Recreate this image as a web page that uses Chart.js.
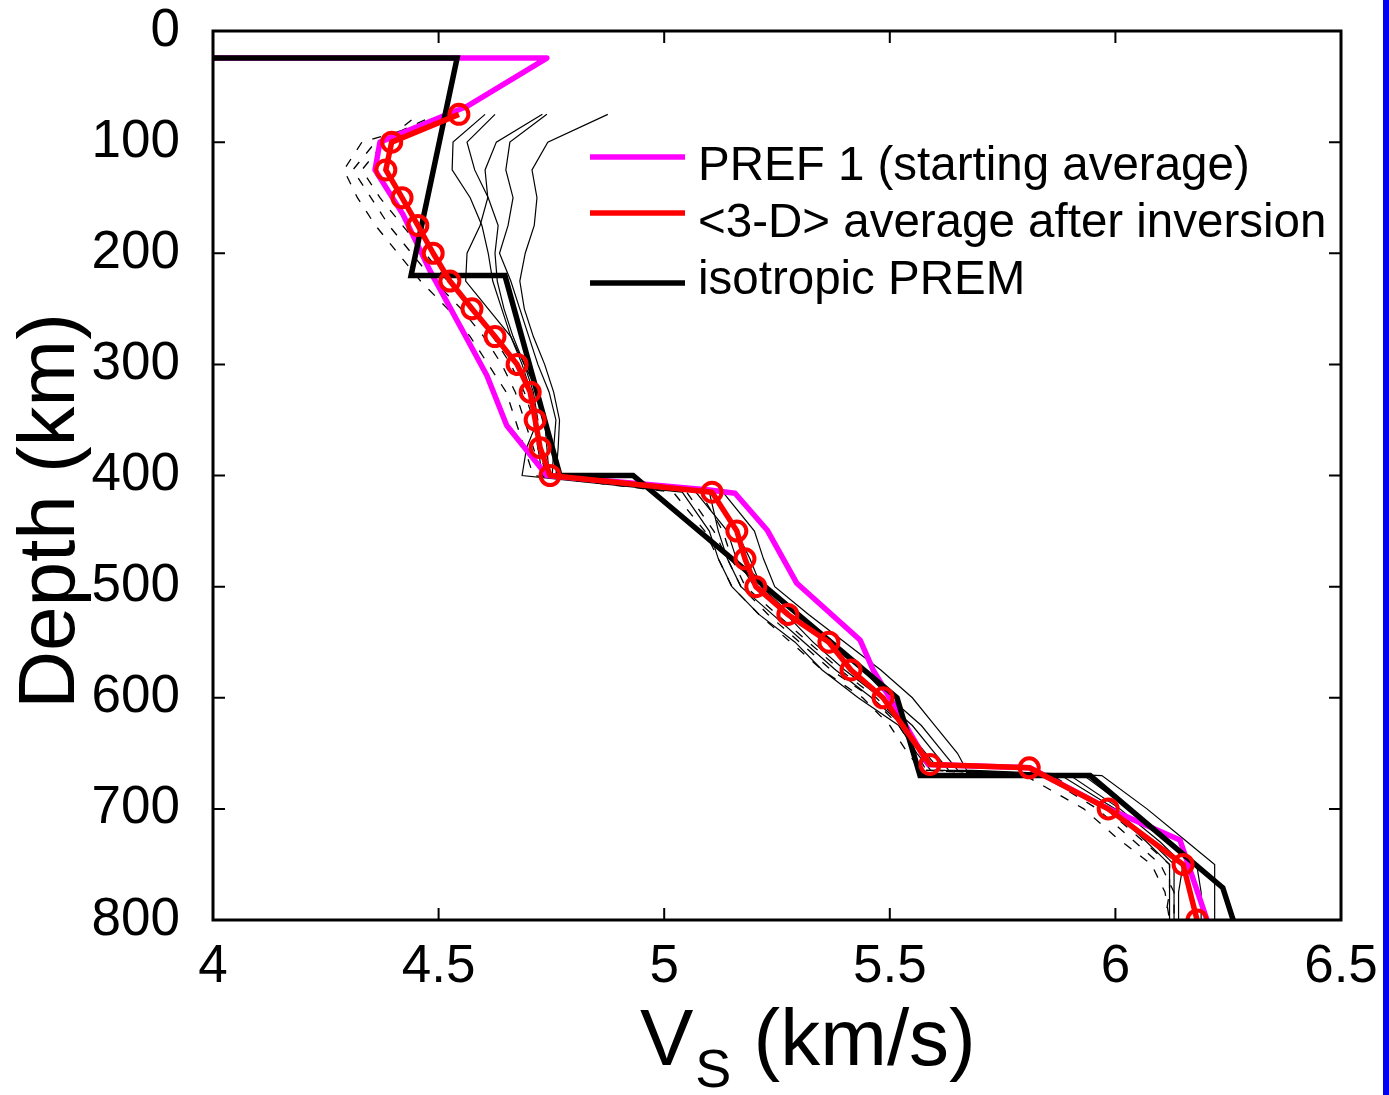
<!DOCTYPE html>
<html>
<head>
<meta charset="utf-8">
<script src="https://cdn.jsdelivr.net/npm/chart.js@4.4.0/dist/chart.umd.min.js"></script>
<style>
  body { margin: 0; background: #fff; }
  #wrap { position: relative; width: 1389px; height: 1095px; }
  #blue-bar { position: absolute; left: 1383px; top: 0; width: 6px; height: 1095px; background: #0000f4; }
</style>
</head>
<body>
<div id="wrap">
  <canvas id="vsChart" width="1389" height="1095"></canvas>
  <div id="blue-bar"></div>
</div>
<script>
const FONT = '"Liberation Sans", Arial, Helvetica, sans-serif';

const xTicks = [4, 4.5, 5, 5.5, 6, 6.5];
const yTicks = [0, 100, 200, 300, 400, 500, 600, 700, 800];

// <3-D> average after inversion
const depthAvg = [75,100,125,150,175,200,225,250,275,300,325,350,375,400,415,450,475,500,525,550,575,600,660,663,700,750,800];
const vsAvg = [4.545,4.396,4.383,4.419,4.454,4.488,4.525,4.574,4.625,4.674,4.703,4.714,4.725,4.747,5.106,5.161,5.179,5.203,5.274,5.365,5.414,5.485,5.589,5.809,5.984,6.150,6.181];

// isotropic PREM
const depthPrem = [24.4,24.4,220,220,400,400,600,670,670,771,800];
const vsPrem = [4.0,4.541,4.439,4.647,4.769,4.931,5.516,5.567,5.944,6.238,6.261];

// PREF 1 (starting average)
const depthPref = [24.4,24.4,68,100,125,165,215,310,355,400,413,416,449,497,548,575,600,660,663,700,728,800];
const vsPref = [4.0,4.74,4.562,4.37,4.359,4.421,4.48,4.607,4.651,4.74,5.10,5.157,5.228,5.294,5.434,5.463,5.50,5.585,5.81,5.985,6.143,6.203];

// individual regional profiles
const depthThin = [75,100,125,150,175,200,225,250,275,300,325,350,375,400,415,450,475,500,525,550,575,600,625,650,665,670,700,730,750,775,800];
const vsThin1 = [4.875,4.742,4.707,4.718,4.712,4.692,4.68,4.69,4.71,4.735,4.755,4.768,4.765,4.76,5.13,5.20,5.22,5.245,5.32,5.40,5.48,5.55,5.60,5.65,5.67,5.97,6.07,6.16,6.22,6.22,6.22];
const vsThin2 = [4.74,4.658,4.649,4.665,4.654,4.635,4.66,4.68,4.70,4.72,4.745,4.76,4.755,4.752,5.11,5.16,5.19,5.215,5.28,5.36,5.44,5.50,5.57,5.62,5.65,5.93,6.03,6.12,6.18,6.19,6.19];
const vsThin3 = [4.73,4.628,4.603,4.609,4.592,4.563,4.56,4.61,4.66,4.69,4.72,4.735,4.74,4.745,5.07,5.14,5.16,5.20,5.27,5.33,5.40,5.48,5.55,5.60,5.63,5.90,6.01,6.10,6.15,6.14,6.14];
const vsThin4 = [4.625,4.563,4.58,4.61,4.632,4.625,4.63,4.645,4.665,4.69,4.71,4.72,4.695,4.685,5.04,5.10,5.12,5.15,5.21,5.29,5.35,5.43,5.52,5.56,5.59,5.88,6.00,6.08,6.13,6.13,6.13];
const vsThin5 = [4.603,4.532,4.53,4.57,4.596,4.61,4.62,4.64,4.66,4.685,4.705,4.715,4.72,4.73,5.10,5.12,5.14,5.17,5.24,5.31,5.38,5.46,5.53,5.58,5.61,5.85,5.99,6.07,6.12,6.12,6.12];

const depthDash = [80,100,125,150,175,200,225,250,275,300,325,350,375,400,415,450,475,500,525,550,575,600,625,650,665,670,700,725,750,775,800];
const vsDash1 = [4.50,4.33,4.29,4.32,4.36,4.41,4.46,4.52,4.57,4.61,4.65,4.67,4.69,4.71,5.02,5.09,5.12,5.15,5.21,5.28,5.35,5.44,5.50,5.54,5.57,5.80,5.93,6.00,6.08,6.11,6.12];
const vsDash2 = [4.47,4.36,4.31,4.35,4.39,4.44,4.49,4.55,4.60,4.64,4.67,4.69,4.71,4.73,5.05,5.11,5.14,5.17,5.23,5.30,5.37,5.46,5.52,5.56,5.58,5.84,5.96,6.03,6.10,6.13,6.13];
const vsDash3 = [4.44,4.38,4.33,4.37,4.42,4.47,4.52,4.57,4.62,4.66,4.69,4.71,4.72,4.74,5.08,5.13,5.15,5.18,5.25,5.32,5.39,5.47,5.53,5.57,5.59,5.86,5.98,6.05,6.12,6.12,6.11];

const legendItems = [
  { text: 'PREF 1 (starting average)', color: '#ff00ff' },
  { text: '<3-D> average after inversion', color: '#ff0000' },
  { text: 'isotropic PREM', color: '#000000' },
];

const toPoints = (vs, depth) => vs.map((v, i) => ({ x: v, y: depth[i] }));

function profile(vs, depth, color, width, extra) {
  return Object.assign({
    data: toPoints(vs, depth),
    showLine: true,
    borderColor: color,
    borderWidth: width,
    pointRadius: 0,
    fill: false,
    tension: 0,
  }, extra || {});
}

const datasets = [
  profile(vsAvg, depthAvg, '#ff0000', 5.5, {
    pointRadius: 9.5, pointBorderWidth: 4, pointBorderColor: '#ff0000',
    pointBackgroundColor: 'rgba(0,0,0,0)', borderJoinStyle: 'round'
  }),
  profile(vsPrem, depthPrem, '#000000', 5.5, { borderJoinStyle: 'miter' }),
  profile(vsPref, depthPref, '#ff00ff', 5.5, { borderJoinStyle: 'round' }),
  profile(vsThin1, depthThin, '#000000', 1.2),
  profile(vsThin2, depthThin, '#000000', 1.2),
  profile(vsThin3, depthThin, '#000000', 1.2),
  profile(vsThin4, depthThin, '#000000', 1.2),
  profile(vsThin5, depthThin, '#000000', 1.2),
  profile(vsDash1, depthDash, '#000000', 1.3, { borderDash: [9, 11] }),
  profile(vsDash2, depthDash, '#000000', 1.3, { borderDash: [9, 11] }),
  profile(vsDash3, depthDash, '#000000', 1.3, { borderDash: [9, 11] }),
];

const framePlugin = {
  id: 'frame',
  afterDraw(chart) {
    const { ctx, chartArea: a, scales } = chart;
    ctx.save();
    ctx.strokeStyle = '#000';

    // inward ticks on all four sides
    ctx.lineWidth = 2;
    xTicks.forEach(v => {
      const px = scales.x.getPixelForValue(v);
      ctx.beginPath();
      ctx.moveTo(px, a.bottom); ctx.lineTo(px, a.bottom - 12);
      ctx.moveTo(px, a.top); ctx.lineTo(px, a.top + 12);
      ctx.stroke();
    });
    yTicks.forEach(v => {
      const py = scales.y.getPixelForValue(v);
      ctx.beginPath();
      ctx.moveTo(a.left, py); ctx.lineTo(a.left + 12, py);
      ctx.moveTo(a.right, py); ctx.lineTo(a.right - 12, py);
      ctx.stroke();
    });

    ctx.lineWidth = 3;
    ctx.strokeRect(a.left, a.top, a.right - a.left, a.bottom - a.top);

    // legend
    ctx.font = '47.5px ' + FONT;
    ctx.textBaseline = 'alphabetic';
    ctx.textAlign = 'left';
    const rows = [157, 213, 283];
    const textBase = [180, 237, 294];
    legendItems.forEach((item, i) => {
      ctx.strokeStyle = item.color;
      ctx.lineWidth = 5.5;
      ctx.beginPath();
      ctx.moveTo(590, rows[i]); ctx.lineTo(685, rows[i]);
      ctx.stroke();
      ctx.fillStyle = '#000';
      ctx.fillText(item.text, 698, textBase[i]);
    });

    // axis titles
    ctx.fillStyle = '#000';
    ctx.font = '80px ' + FONT;
    ctx.save();
    ctx.translate(74, 511);
    ctx.rotate(-Math.PI / 2);
    ctx.textAlign = 'center';
    ctx.fillText('Depth (km)', 0, 0);
    ctx.restore();

    ctx.textAlign = 'left';
    let x = 640;
    ctx.font = '80px ' + FONT;
    ctx.fillText('V', x, 1065);
    x += ctx.measureText('V').width + 2;
    ctx.font = '54px ' + FONT;
    ctx.fillText('S', x, 1087);
    x += ctx.measureText('S').width;
    ctx.font = '80px ' + FONT;
    ctx.fillText(' (km/s)', x, 1065);
    ctx.restore();
  }
};

new Chart(document.getElementById('vsChart'), {
  type: 'scatter',
  data: { datasets },
  options: {
    responsive: false,
    animation: false,
    layout: { padding: { left: 0, top: 31, right: 48, bottom: 0 } },
    plugins: { legend: { display: false }, tooltip: { enabled: false } },
    scales: {
      x: {
        type: 'linear', position: 'bottom', min: 4, max: 6.5,
        afterBuildTicks: s => { s.ticks = xTicks.map(v => ({ value: v })); },
        afterFit: s => { s.height = 175; s.paddingLeft = 0; s.paddingRight = 0; },
        grid: { display: false, drawTicks: false },
        border: { display: false },
        ticks: { color: '#000', font: { size: 53, family: FONT }, padding: 16, autoSkip: false, maxRotation: 0,
                 callback: v => String(v) }
      },
      y: {
        type: 'linear', reverse: true, min: 0, max: 800,
        afterBuildTicks: s => { s.ticks = yTicks.map(v => ({ value: v })); },
        afterFit: s => { s.width = 213; s.paddingTop = 0; s.paddingBottom = 0; },
        grid: { display: false, drawTicks: false },
        border: { display: false },
        ticks: { color: '#000', font: { size: 53, family: FONT }, padding: 33, autoSkip: false,
                 callback: v => String(v) }
      }
    }
  },
  plugins: [framePlugin]
});
</script>
</body>
</html>
